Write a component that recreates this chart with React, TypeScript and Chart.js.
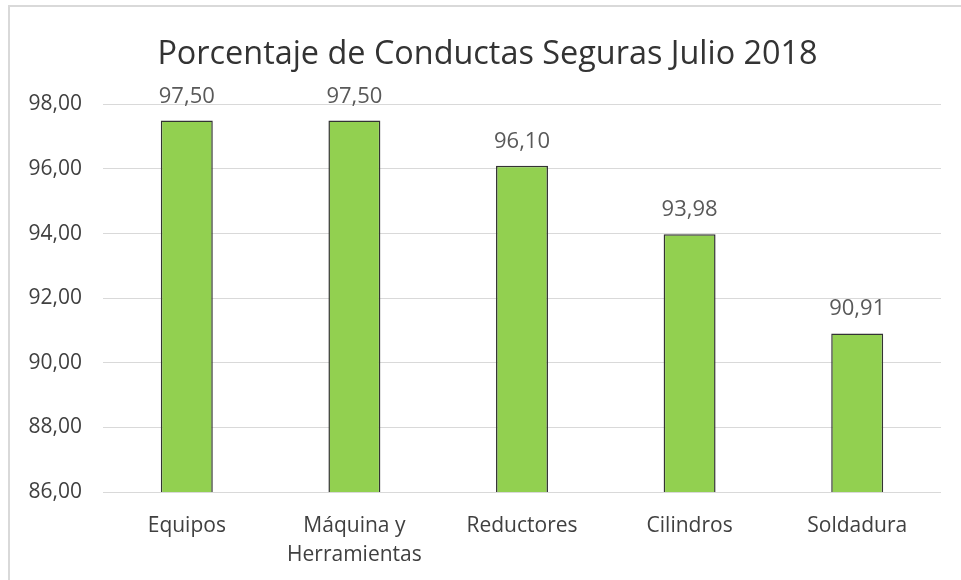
import React, { useEffect, useRef } from "react";
import { Chart, registerables } from "chart.js";

Chart.register(...registerables);

const categories: (string | string[])[] = [
  "Equipos",
  ["Máquina y", "Herramientas"],
  "Reductores",
  "Cilindros",
  "Soldadura",
];
const values: number[] = [97.5, 97.5, 96.1, 93.98, 90.91];
const yTicks: number[] = [86, 88, 90, 92, 94, 96, 98];
const titleText = "Porcentaje de Conductas Seguras Julio 2018";

const fmt = (v: number) => v.toFixed(2).replace(".", ",");

const FONT = "'Open Sans', 'Noto Sans', sans-serif";

const framePlugin = {
  id: "frame",
  afterLayout(chart: any) {
    // centre the title over the chart frame (frame starts at x≈9)
    if (chart.titleBlock) {
      chart.titleBlock.left = 34;
    }
  },
  beforeDraw(chart: any) {
    const ctx = chart.ctx;
    ctx.save();
    ctx.fillStyle = "#ffffff";
    ctx.fillRect(0, 0, chart.width, chart.height);
    ctx.strokeStyle = "#d9d9d9";
    ctx.lineWidth = 2;
    ctx.beginPath();
    ctx.moveTo(9, 5);
    ctx.lineTo(9, chart.height);
    ctx.moveTo(8, 6);
    ctx.lineTo(chart.width, 6);
    ctx.stroke();
    ctx.restore();
  },
};

const labelPlugin = {
  id: "barLabels",
  afterDatasetsDraw(chart: any) {
    const ctx = chart.ctx;
    const meta = chart.getDatasetMeta(0);
    const data = chart.data.datasets[0].data as number[];
    ctx.save();
    ctx.font = `22px ${FONT}`;
    ctx.fillStyle = "#595959";
    ctx.textAlign = "center";
    ctx.textBaseline = "alphabetic";
    meta.data.forEach((bar: any, i: number) => {
      ctx.fillText(fmt(data[i]), bar.x, bar.y - 18);
    });
    ctx.restore();
  },
};

export default function App() {
  const ref = useRef<HTMLCanvasElement | null>(null);

  useEffect(() => {
    if (!ref.current) return;
    const chart = new Chart(ref.current, {
      type: "bar",
      data: {
        labels: categories,
        datasets: [
          {
            data: values,
            backgroundColor: "#92D050",
            borderColor: "#333333",
            borderWidth: 1.5,
            categoryPercentage: 1,
            barPercentage: 0.31,
          },
        ],
      },
      options: {
        responsive: false,
        animation: false,
        layout: { padding: { left: 0, right: 20, top: 0, bottom: 0 } },
        plugins: {
          legend: { display: false },
          tooltip: { enabled: false },
          title: {
            display: true,
            text: titleText,
            color: "#333333",
            font: { family: FONT, size: 32.4, weight: "normal", lineHeight: 1.2 },
            padding: { top: 35, bottom: 30.5 },
          },
        },
        scales: {
          x: {
            grid: { display: false },
            border: { display: false },
            ticks: {
              color: "#404040",
              font: { family: FONT, size: 21, lineHeight: 1.4 },
              padding: 11,
              maxRotation: 0,
              autoSkip: false,
            },
            afterFit(scale: any) {
              scale.height = 88;
            },
          },
          y: {
            min: 86,
            max: 98,
            afterBuildTicks(scale: any) {
              scale.ticks = yTicks.map((v) => ({ value: v }));
            },
            grid: { color: "#d9d9d9", lineWidth: 1, drawTicks: false },
            border: { display: false },
            ticks: {
              color: "#404040",
              font: { family: FONT, size: 21 },
              padding: 21,
              callback: (v: any) => fmt(Number(v)),
            },
            afterFit(scale: any) {
              scale.width = 103;
            },
          },
        },
      },
      plugins: [framePlugin, labelPlugin],
    });
    return () => chart.destroy();
  }, []);

  return (
    <div style={{ position: "fixed", left: 0, top: 0, width: 961, height: 580 }}>
      <canvas ref={ref} width={961} height={580} />
    </div>
  );
}
